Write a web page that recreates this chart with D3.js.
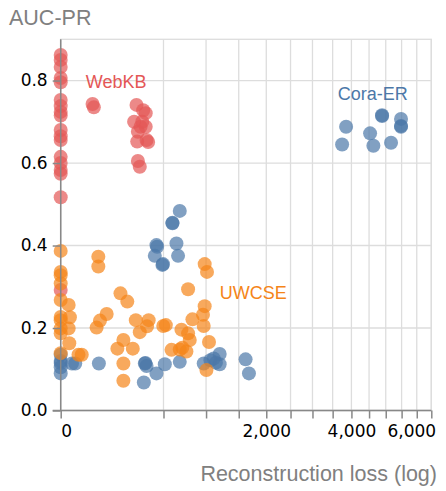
<!DOCTYPE html>
<html>
<head>
<meta charset="utf-8">
<script src="https://cdn.jsdelivr.net/npm/d3@7"></script>
<style>
  body { margin: 0; background: #fff; }
  .tick text { font-family: "DejaVu Sans", sans-serif; font-size: 17px; fill: #000; }
  .lbl { font-family: Helvetica, Arial, "Liberation Sans", sans-serif; }
</style>
</head>
<body>
<div class="chart"></div>
<script>
var svgWidth = 446;
var svgHeight = 491;

var margin = { top: 39.3, right: 14.7, bottom: 80.5, left: 60.7 };
var width = svgWidth - margin.left - margin.right;
var height = svgHeight - margin.top - margin.bottom;

// series: reconstruction loss and AUC-PR
var webkbLoss = [0, 0, 0, 0, 0, 0, 0, 0, 0, 0, 0, 0, 0, 0, 0, 0, 0, 0,
  48, 52, 272, 322, 342, 255, 315, 302, 342, 282, 277, 349, 362, 282, 296];
var webkbAuc = [0.862, 0.85, 0.833, 0.806, 0.796, 0.753, 0.738, 0.724, 0.715, 0.68, 0.665, 0.656, 0.615, 0.60, 0.583, 0.574, 0.517, 0.292,
  0.743, 0.735, 0.741, 0.728, 0.721, 0.70, 0.70, 0.688, 0.688, 0.676, 0.652, 0.656, 0.651, 0.605, 0.591];

var coraLoss = [3855, 3748, 4530, 4627, 4887, 4887, 5164, 5481, 5481, 5481,
  671, 591, 591, 434, 440, 419, 490, 495, 634, 652,
  0, 0, 0, 0, 0, 6, 10, 69, 327, 335, 340, 349, 434, 513, 671, 968, 1061, 1108, 1140, 1196, 1196, 1618, 1677];
var coraAuc = [0.688, 0.645, 0.672, 0.642, 0.714, 0.716, 0.649, 0.707, 0.69, 0.688,
  0.484, 0.454, 0.455, 0.401, 0.397, 0.375, 0.353, 0.355, 0.405, 0.375,
  0.135, 0.12, 0.115, 0.105, 0.09, 0.114, 0.114, 0.114, 0.068, 0.114, 0.115, 0.108, 0.09, 0.112, 0.118, 0.114, 0.122, 0.126, 0.116, 0.137, 0.112, 0.124, 0.09];

var uwcseLoss = [0, 0, 0, 0, 0, 0, 0, 0, 0, 0,
  3, 4, 3, 3.5, 15, 21,
  67, 67, 169, 210, 100, 73, 61,
  267, 296, 366, 353, 498, 523,
  186, 152, 246, 186, 186,
  690, 768, 788, 700, 581, 671, 748,
  768, 981, 1013, 981, 958, 968, 821, 1041, 1005];
var uwcseAuc = [0.387, 0.336, 0.328, 0.308, 0.268, 0.227, 0.219, 0.199, 0.187, 0.139,
  0.256, 0.226, 0.199, 0.163, 0.135, 0.135,
  0.373, 0.349, 0.284, 0.264, 0.234, 0.218, 0.201,
  0.219, 0.19, 0.219, 0.204, 0.205, 0.207,
  0.171, 0.15, 0.15, 0.114, 0.072,
  0.196, 0.187, 0.171, 0.152, 0.147, 0.148, 0.143,
  0.294, 0.355, 0.336, 0.253, 0.232, 0.205, 0.221, 0.166, 0.098];

var seriesNames = ["WebKB", "Cora-ER", "UWCSE"];
var seriesColors = ["#e45756", "#4c78a8", "#f58518"];
// where each series name sits, in data units (loss, auc)
var labelLoss = [30, 3632, 1196];
var labelAuc = [0.782, 0.753, 0.27];

var xTicks = d3.range(0, 6501, 500);
var xLabelTicks = [0, 2000, 4000, 6000];
var yTicks = [0, 0.2, 0.4, 0.6, 0.8];

var series = [
  { name: seriesNames[0], color: seriesColors[0], loss: webkbLoss, auc: webkbAuc },
  { name: seriesNames[1], color: seriesColors[1], loss: coraLoss, auc: coraAuc },
  { name: seriesNames[2], color: seriesColors[2], loss: uwcseLoss, auc: uwcseAuc }
];

var svg = d3.select(".chart")
  .append("svg")
  .attr("width", svgWidth)
  .attr("height", svgHeight);

var chartGroup = svg.append("g")
  .attr("transform", `translate(${margin.left}, ${margin.top})`);

var xScale = d3.scaleSqrt()
  .domain([0, 6500])
  .range([0, width]);

var yScale = d3.scaleLinear()
  .domain([0, 0.9])
  .range([height, 0]);

// grid
chartGroup.append("g")
  .selectAll("line")
  .data(xTicks)
  .enter()
  .append("line")
  .attr("x1", d => xScale(d)).attr("x2", d => xScale(d))
  .attr("y1", 0).attr("y2", height)
  .attr("stroke", "#ddd")
  .attr("stroke-width", 1.3);

chartGroup.append("g")
  .selectAll("line")
  .data(yTicks)
  .enter()
  .append("line")
  .attr("x1", 0).attr("x2", width)
  .attr("y1", d => yScale(d)).attr("y2", d => yScale(d))
  .attr("stroke", "#ddd")
  .attr("stroke-width", 1.3);

chartGroup.append("rect")
  .attr("width", width)
  .attr("height", height)
  .attr("fill", "none")
  .attr("stroke", "#ddd")
  .attr("stroke-width", 1.3);

// points
series.forEach(function(s) {
  var pts = s.loss.map((l, i) => ({ loss: l, auc: s.auc[i] }));
  chartGroup.append("g")
    .selectAll("circle")
    .data(pts)
    .enter()
    .append("circle")
    .attr("cx", d => xScale(d.loss))
    .attr("cy", d => yScale(d.auc))
    .attr("r", 7)
    .attr("fill", s.color)
    .attr("opacity", 0.7);
});

// axes
var bottomAxis = d3.axisBottom(xScale)
  .tickValues(xTicks)
  .tickSize(8)
  .tickPadding(6)
  .tickFormat(d => xLabelTicks.indexOf(d) >= 0 ? d3.format(",")(d) : "");

var leftAxis = d3.axisLeft(yScale)
  .tickValues(yTicks)
  .tickSize(8)
  .tickPadding(5)
  .tickFormat(d3.format(".1f"));

var xAxisG = chartGroup.append("g")
  .attr("transform", `translate(0, ${height})`)
  .call(bottomAxis);

var yAxisG = chartGroup.append("g")
  .call(leftAxis);

[xAxisG, yAxisG].forEach(function(g) {
  g.select(".domain").attr("stroke", "#888").attr("stroke-width", 1.5);
  g.selectAll(".tick line").attr("stroke", "#888").attr("stroke-width", 1.5);
});
yAxisG.select(".domain").attr("d", `M0,0V${height}`);
xAxisG.select(".domain").attr("d", `M-8,0H${width}`);

// flush first and last labels
xAxisG.selectAll(".tick text")
  .attr("text-anchor", d => d === 0 ? "start" : "middle")
  .attr("dx", d => d === 6000 ? (width - xScale(6000) - 20) : 0);

// series labels
series.forEach(function(s, i) {
  chartGroup.append("text")
    .attr("class", "lbl")
    .attr("x", xScale(labelLoss[i]))
    .attr("y", yScale(labelAuc[i]))
    .attr("fill", s.color)
    .attr("font-size", "18px")
    .text(s.name);
});

// axis titles
svg.append("text")
  .attr("class", "lbl")
  .attr("x", 9)
  .attr("y", 25)
  .attr("fill", "#808080")
  .attr("font-size", "21.5px")
  .text("AUC-PR");

svg.append("text")
  .attr("class", "lbl")
  .attr("x", 437)
  .attr("y", 481)
  .attr("text-anchor", "end")
  .attr("fill", "#808080")
  .attr("font-size", "21.5px")
  .text("Reconstruction loss (log)");
</script>
</body>
</html>
